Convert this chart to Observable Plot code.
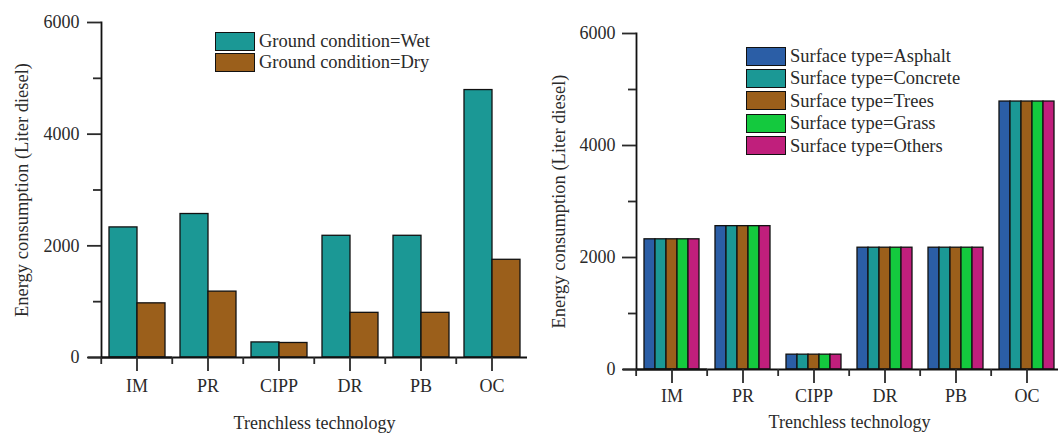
<!DOCTYPE html>
<html><head><meta charset="utf-8">
<script src="https://cdn.jsdelivr.net/npm/d3@7"></script>
<script src="https://cdn.jsdelivr.net/npm/@observablehq/plot@0.6"></script>
<style>
body{margin:0;background:#fff;}
#wrap{position:relative;width:1058px;height:434px;overflow:hidden;font-family:"Liberation Serif",serif;background:#fff;}
.panel{position:absolute;top:0;}
.legend{position:absolute;font-size:18.5px;color:#2a2a2a;line-height:1;}
.row{display:flex;align-items:center;}
.sw{box-sizing:border-box;width:40px;height:19px;border:1.6px solid #111;margin-right:4px;}
</style></head><body><div id="wrap"></div>
<script>
// ---- data ----
const techs = ["IM", "PR", "CIPP", "DR", "PB", "OC"];

const groundConditions = ["Wet", "Dry"];
const wetValues = [2330, 2570, 270, 2180, 2180, 4790];
const dryValues = [970, 1180, 260, 800, 800, 1750];
const groundColors = ["#1b9895", "#9b5f1b"];

const surfaceTypes = ["Asphalt", "Concrete", "Trees", "Grass", "Others"];
const asphaltValues = [2325, 2560, 265, 2175, 2175, 4785];
const concreteValues = [2325, 2560, 265, 2175, 2175, 4785];
const treesValues = [2325, 2560, 265, 2175, 2175, 4785];
const grassValues = [2325, 2560, 265, 2175, 2175, 4785];
const othersValues = [2325, 2560, 265, 2175, 2175, 4785];
const surfaceColors = ["#2b5ea6", "#1b9895", "#9b5f1b", "#14c93e", "#c01f7c"];

const yTicks = [0, 2000, 4000, 6000];
const yMinorTicks = [1000, 3000, 5000];
const yLabel = "Energy consumption (Liter diesel)";
const xLabel = "Trenchless technology";

// ---- tables ----
function toRows(series, valueArrays) {
  const rows = [];
  series.forEach((s, i) => techs.forEach((t, j) => rows.push({tech: t, series: s, value: valueArrays[i][j]})));
  return rows;
}
const groundData = toRows(groundConditions, [wetValues, dryValues]);
const surfaceData = toRows(surfaceTypes, [asphaltValues, concreteValues, treesValues, grassValues, othersValues]);

function panel(o) {
  const step = (o.width - o.marginLeft - o.marginRight) / techs.length;
  return Plot.plot({
    width: o.width, height: o.height,
    marginTop: o.marginTop, marginBottom: o.marginBottom,
    marginLeft: o.marginLeft, marginRight: o.marginRight,
    style: {fontFamily: "'Liberation Serif', serif", fontSize: "18px", color: "#2a2a2a", background: "transparent", overflow: "visible"},
    fx: {domain: techs, padding: 0},
    x: {domain: o.series, paddingInner: 0, paddingOuter: o.xPad, axis: null},
    y: {domain: [0, 6000]},
    color: {domain: o.series, range: o.colors},
    marks: [
      Plot.barY(o.data, {fx: "tech", x: "series", y: "value", fill: "series", stroke: "#111", strokeWidth: 1.3}),
      Plot.ruleY([0], {stroke: "#111", strokeWidth: 1.8}),
      Plot.ruleY([0], {facetAnchor: "left", insetLeft: -13, stroke: "#111", strokeWidth: 1.8}),
      Plot.frame({anchor: "left", facetAnchor: "left", stroke: "#111", strokeWidth: 1.8}),
      Plot.axisY({ticks: yTicks, tickSize: 14, tickPadding: o.yPad, tickFormat: d => String(d), strokeWidth: 1.8, fontSize: 18, label: null}),
      Plot.axisY({ticks: yMinorTicks, tickSize: 8, tickFormat: () => "", strokeWidth: 1.8, label: null}),
      Plot.axisY({ticks: [], tickSize: 0, fontSize: 18.5, dy: 16,
        label: yLabel, labelAnchor: "center", labelOffset: o.yLabelOffset, labelArrow: false}),
      Plot.axisFx({anchor: "bottom", tickSize: 14, tickPadding: o.xPadT, strokeWidth: 1.8, fontSize: 18,
        label: xLabel, labelAnchor: "center", labelOffset: o.xLabelOffset, labelArrow: false}),
      Plot.axisFx({anchor: "bottom", tickSize: 7, tickFormat: () => "", strokeWidth: 1.8, label: null, dx: -step / 2})
    ]
  });
}

function legend(series, colors, prefix, left, top, rowH) {
  const div = document.createElement("div");
  div.className = "legend";
  div.style.left = left + "px";
  div.style.top = top + "px";
  series.forEach((s, i) => {
    const r = document.createElement("div");
    r.className = "row";
    r.style.height = rowH + "px";
    const sw = document.createElement("div");
    sw.className = "sw";
    sw.style.background = colors[i];
    const t = document.createElement("span");
    t.textContent = prefix + s;
    r.append(sw, t);
    div.append(r);
  });
  return div;
}

const wrap = document.getElementById("wrap");

const left = panel({data: groundData, series: groundConditions, colors: groundColors,
  width: 530, height: 434, marginTop: 22, marginBottom: 77, marginLeft: 99, marginRight: 2,
  xPad: 0.233, yPad: 8, xPadT: 8, yLabelOffset: 87, xLabelOffset: 71});
left.classList.add("panel");
left.style.left = "0px";
wrap.append(left);

const right = panel({data: surfaceData, series: surfaceTypes, colors: surfaceColors,
  width: 536, height: 434, marginTop: 33, marginBottom: 65, marginLeft: 104, marginRight: 2,
  xPad: 0.63, yPad: 7, xPadT: 6, yLabelOffset: 85, xLabelOffset: 58});
right.classList.add("panel");
right.style.left = "530px";
wrap.append(right);

wrap.append(legend(groundConditions, groundColors, "Ground condition=", 215, 31, 21));
wrap.append(legend(surfaceTypes, surfaceColors, "Surface type=", 746, 45, 22.4));
</script>
</body></html>
